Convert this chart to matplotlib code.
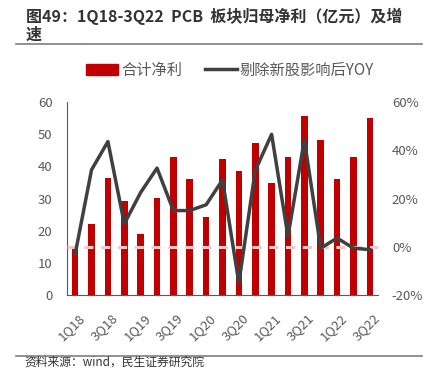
import matplotlib
matplotlib.use("Agg")
import matplotlib.pyplot as plt
import matplotlib.transforms as mtransforms
from matplotlib.lines import Line2D
from matplotlib.patches import Patch

plt.rcParams['font.family'] = ['Noto Sans CJK SC', 'DejaVu Sans']

quarters = ["1Q18", "2Q18", "3Q18", "4Q18", "1Q19", "2Q19", "3Q19", "4Q19",
            "1Q20", "2Q20", "3Q20", "4Q20", "1Q21", "2Q21", "3Q21", "4Q21",
            "1Q22", "2Q22", "3Q22"]
net_profit = [14.8, 22.0, 36.4, 29.3, 18.9, 30.2, 43.0, 36.2, 24.3, 42.3,
              38.4, 47.2, 34.9, 42.9, 55.6, 48.2, 36.1, 42.8, 54.9]
yoy = [-3.0, 31.9, 43.6, 9.5, 22.5, 32.6, 15.0, 15.0, 17.4, 27.7,
       -15.0, 31.6, 46.6, 4.3, 44.3, -0.6, 3.6, -0.6, -1.2]
left_ticks = [0, 10, 20, 30, 40, 50, 60]
right_ticks = [-20, 0, 20, 40, 60]

bar_color = "#C00000"
line_color = "#404040"
gray = "#595959"

fig = plt.figure(figsize=(4.32, 3.69), dpi=100)
ax = fig.add_axes([67/432, 1-295/369, (378-67)/432, (295-102)/369])
x = list(range(len(quarters)))
ax.bar(x, net_profit, width=0.4, color=bar_color, zorder=2)
ax.set_xlim(-0.5, len(quarters)-0.5)
ax.set_ylim(0, 60)
ax.set_yticks(left_ticks)
ax.tick_params(axis='y', length=0, colors=gray, labelsize=9.5, pad=10.5)
ax.set_xticks(x[::2])
ax.set_xticklabels(quarters[::2], rotation=45, ha='right', rotation_mode='anchor')
ax.tick_params(axis='x', length=0, colors=gray, labelsize=9.5, pad=12)
offset = mtransforms.ScaledTranslation(3/100, 0, fig.dpi_scale_trans)
for lab in ax.get_xticklabels():
    lab.set_transform(lab.get_transform() + offset)
for s in ['top', 'right']:
    ax.spines[s].set_visible(False)
ax.spines['left'].set_color(gray)
ax.spines['bottom'].set_color(gray)

ax2 = ax.twinx()
ax2.set_ylim(-20, 60)
ax2.set_yticks(right_ticks)
ax2.set_yticklabels([f"{t}%" for t in right_ticks])
ax2.tick_params(axis='y', length=0, colors=gray, labelsize=9.5, pad=10)
for s in ['top', 'right', 'left', 'bottom']:
    ax2.spines[s].set_visible(False)
ax2.axhline(0, color="#F0C8C8", lw=2.2, ls=(0, (3, 2.5)), zorder=1)
ax2.plot(x, yoy, color=line_color, lw=2.5, zorder=3)

# title
fig.text(26/432, 1-16/369, "图49：1Q18-3Q22  PCB  板块归母净利（亿元）及增",
         fontsize=11.5, fontweight='bold', color="#333333", va='center', ha='left')
fig.text(26/432, 1-35/369, "速", fontsize=11.5, fontweight='bold',
         color="#333333", va='center', ha='left')
fig.add_artist(Line2D([16/432, 422/432], [1-44/369, 1-44/369],
                      color="#7f7f7f", lw=1.2))
fig.add_artist(Line2D([16/432, 422/432], [1-356/369, 1-356/369],
                      color="#7f7f7f", lw=1.2))
fig.text(24/432, 1-362.5/369, "资料来源：wind，民生证券研究院", fontsize=8.5,
         color="#333333", va='center', ha='left')

handles = [Patch(color=bar_color), Line2D([], [], color=line_color, lw=2.5)]
fig.legend(handles, ["合计净利", "剔除新股影响后YOY"], loc='center',
           bbox_to_anchor=(230/432, 1-70/369), ncol=2, frameon=False,
           fontsize=11, handlelength=2.1, handleheight=0.7, columnspacing=1.5,
           labelcolor=gray, handletextpad=0.2)

fig.savefig("out.png", dpi=100)
